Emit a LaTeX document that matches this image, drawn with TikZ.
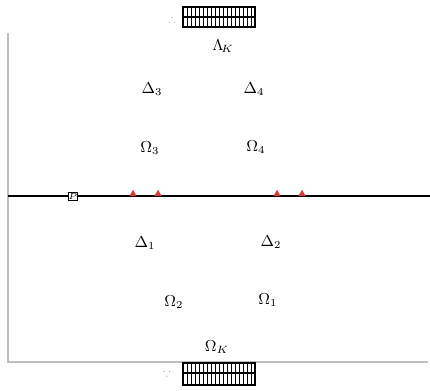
\documentclass[tikz,border=0pt]{standalone}
\usepackage{amsmath, amssymb}
\usepackage{xcolor}
\usepackage{tikz}
\usetikzlibrary{arrows.meta,positioning,calc,shapes.geometric}
\definecolor{myred}{RGB}{214,60,60}
\definecolor{mygray}{RGB}{190,190,190}

\begin{document}
\begin{tikzpicture}[x=0.02cm, y=-0.02cm]
    \tikzstyle{lbl}=[font=\small, inner sep=1pt]
    \tikzstyle{marker}=[regular polygon, regular polygon sides=3, fill=myred, draw=none, minimum size=0.17cm, inner sep=0pt]
    \tikzstyle{grating}=[draw, line width=0.8pt]
    \useasboundingbox (0,0) rectangle (430,390);
    % frame
    \coordinate (ftop) at (8,33);
    \coordinate (fbl) at (8,362);
    \coordinate (fbr) at (428,362);
    \draw[mygray, line width=0.7pt] (ftop) -- (fbl) -- (fbr);
    % axis
    \coordinate (aL) at (8,196);
    \coordinate (aR) at (430,196);
    \draw[line width=1pt] (aL) -- (aR);
    \node[draw, fill=white, minimum size=0.16cm, inner sep=0pt, font=\tiny] (src) at (73,196) {$P$};
    \node[marker] (m1) at (133,194) {};
    \node[marker] (m2) at (158,194) {};
    \node[marker] (m3) at (277,194) {};
    \node[marker] (m4) at (302,194) {};
    % gratings
    \foreach \x in {187,191,...,252} \draw[line width=0.3pt] (\x,7) -- (\x,27);
    \draw[grating] (183,7) rectangle (255,27);
    \draw[grating] (183,17) -- (255,17);
    \foreach \x in {187,191,...,252} \draw[line width=0.3pt] (\x,363) -- (\x,385);
    \draw[grating] (183,363) rectangle (255,385);
    \draw[grating] (183,373) -- (255,373);
    \node[lbl, gray, font=\tiny] (gt) at (172,20) {$\therefore$};
    \node[lbl, gray, font=\tiny] (gb) at (167,374) {$\because$};
    % labels
    \node[lbl] (lam) at (223,46) {$\Lambda_{\!K}$};
    \node[lbl] (d3) at (152,89) {$\Delta_3$};
    \node[lbl] (d4) at (254,89) {$\Delta_4$};
    \node[lbl] (o3) at (150,148) {$\Omega_3$};
    \node[lbl] (o4) at (256,147) {$\Omega_4$};
    \node[lbl] (d1) at (145,243) {$\Delta_1$};
    \node[lbl] (d2) at (271,242) {$\Delta_2$};
    \node[lbl] (o2) at (174,302) {$\Omega_2$};
    \node[lbl] (o1) at (268,300) {$\Omega_1$};
    \node[lbl] (ok) at (217,347) {$\Omega_K$};
\end{tikzpicture}
\end{document}
